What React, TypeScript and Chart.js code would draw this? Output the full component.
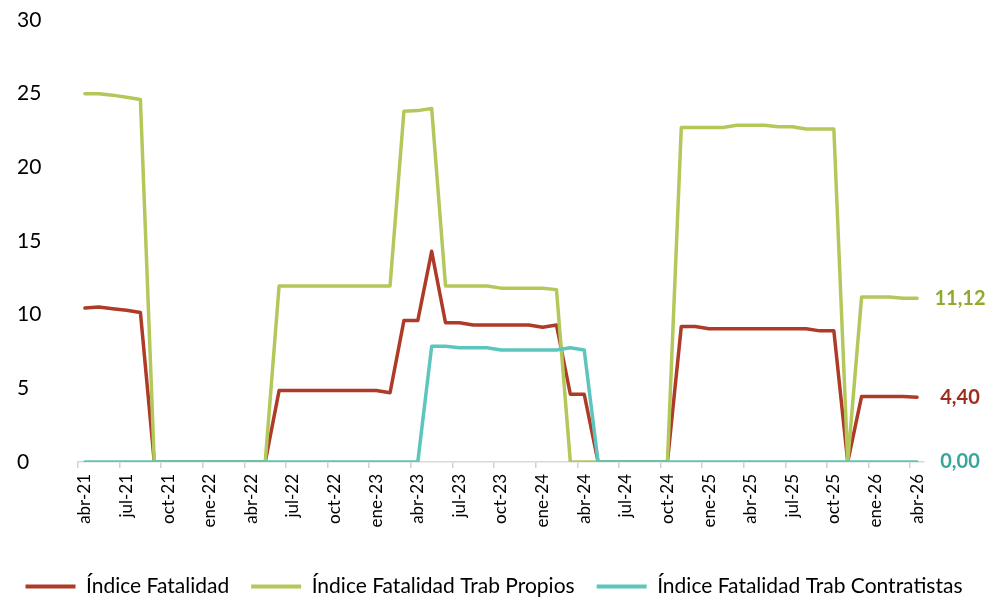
import React, { useEffect, useRef } from 'react';
import { Chart, registerables } from 'chart.js';

Chart.register(...registerables);

const categories = [
  'abr-21', 'may-21', 'jun-21', 'jul-21', 'ago-21', 'sep-21', 'oct-21', 'nov-21', 'dic-21',
  'ene-22', 'feb-22', 'mar-22', 'abr-22', 'may-22', 'jun-22', 'jul-22', 'ago-22', 'sep-22', 'oct-22', 'nov-22', 'dic-22',
  'ene-23', 'feb-23', 'mar-23', 'abr-23', 'may-23', 'jun-23', 'jul-23', 'ago-23', 'sep-23', 'oct-23', 'nov-23', 'dic-23',
  'ene-24', 'feb-24', 'mar-24', 'abr-24', 'may-24', 'jun-24', 'jul-24', 'ago-24', 'sep-24', 'oct-24', 'nov-24', 'dic-24',
  'ene-25', 'feb-25', 'mar-25', 'abr-25', 'may-25', 'jun-25', 'jul-25', 'ago-25', 'sep-25', 'oct-25', 'nov-25', 'dic-25',
  'ene-26', 'feb-26', 'mar-26', 'abr-26',
];

const indiceFatalidad = [
  10.45, 10.52, 10.4, 10.3, 10.15, 0, 0, 0, 0,
  0, 0, 0, 0, 0, 4.85, 4.85, 4.85, 4.85, 4.85, 4.85, 4.85,
  4.85, 4.7, 9.6, 9.6, 14.3, 9.45, 9.45, 9.3, 9.3, 9.3, 9.3, 9.3,
  9.15, 9.3, 4.6, 4.6, 0, 0, 0, 0, 0, 0, 9.2, 9.2,
  9.05, 9.05, 9.05, 9.05, 9.05, 9.05, 9.05, 9.05, 8.9, 8.9, 0, 4.45,
  4.45, 4.45, 4.45, 4.4,
];

const indiceTrabPropios = [
  25.0, 25.0, 24.9, 24.75, 24.6, 0, 0, 0, 0,
  0, 0, 0, 0, 0, 11.95, 11.95, 11.95, 11.95, 11.95, 11.95, 11.95,
  11.95, 11.95, 23.8, 23.85, 24.0, 11.95, 11.95, 11.95, 11.95, 11.8, 11.8, 11.8,
  11.8, 11.7, 0, 0, 0, 0, 0, 0, 0, 0, 22.7, 22.7,
  22.7, 22.7, 22.85, 22.85, 22.85, 22.75, 22.75, 22.6, 22.6, 22.6, 0, 11.2,
  11.2, 11.2, 11.12, 11.12,
];

const indiceTrabContratistas = [
  0, 0, 0, 0, 0, 0, 0, 0, 0,
  0, 0, 0, 0, 0, 0, 0, 0, 0, 0, 0, 0,
  0, 0, 0, 0, 7.85, 7.85, 7.75, 7.75, 7.75, 7.6, 7.6, 7.6,
  7.6, 7.6, 7.75, 7.6, 0, 0, 0, 0, 0, 0, 0, 0,
  0, 0, 0, 0, 0, 0, 0, 0, 0, 0, 0, 0,
  0, 0, 0, 0,
];

const seriesNames = [
  'Índice Fatalidad',
  'Índice Fatalidad Trab Propios',
  'Índice Fatalidad Trab Contratistas',
];

const yTickValues = [0, 5, 10, 15, 20, 25, 30];

const lineColors = ['#AE3A28', '#B3C85A', '#5CC6BC'];
const endLabelColors = ['#9C2D1F', '#8FAA2C', '#38A69B'];

const FONT = "Lato, 'Open Sans', sans-serif";

const endLabelPlugin = {
  id: 'endLabels',
  afterDatasetsDraw(chart: any) {
    const { ctx, chartArea, scales } = chart;
    const y = scales.y;
    chart.data.datasets.forEach((ds: any, i: number) => {
      const v = ds.data[ds.data.length - 1] as number;
      const py = y.getPixelForValue(v);
      ctx.save();
      ctx.font = `bold 20px ${FONT}`;
      ctx.fillStyle = endLabelColors[i];
      ctx.textAlign = 'center';
      ctx.textBaseline = 'middle';
      ctx.fillText(v.toFixed(2).replace('.', ','), chartArea.right + 36, py);
      ctx.restore();
    });
  },
};

export default function App() {
  const ref = useRef<HTMLCanvasElement>(null);

  useEffect(() => {
    if (!ref.current) return;
    Chart.defaults.font.family = FONT;
    const seriesData = [indiceFatalidad, indiceTrabPropios, indiceTrabContratistas];
    const chart = new Chart(ref.current, {
      type: 'line',
      data: {
        labels: categories,
        datasets: seriesData.map((d, i) => ({
          label: seriesNames[i],
          data: d,
          borderColor: lineColors[i],
          backgroundColor: lineColors[i],
          borderWidth: 3.5,
          pointRadius: 0,
          tension: 0,
          fill: false,
          borderJoinStyle: 'round' as const,
          borderCapStyle: 'round' as const,
          order: 2 - i,
        })),
      },
      options: {
        responsive: false,
        animation: false,
        layout: { padding: { top: 20, bottom: -8, left: 0, right: 0 } },
        scales: {
          x: {
            type: 'category',
            offset: true,
            grid: {
              offset: true,
              drawOnChartArea: false,
              drawTicks: true,
              tickLength: 6,
              lineWidth: 1.5,
              color: (ctx: any) =>
                ctx.index !== undefined && ctx.index % 3 === 0 ? '#d0d0d0' : 'rgba(0,0,0,0)',
            },
            border: { display: true, color: '#d9d9d9', width: 1.5 },
            ticks: {
              autoSkip: false,
              maxRotation: 90,
              minRotation: 90,
              padding: 6,
              color: '#000',
              font: { size: 17 },
              callback: (_v: any, i: number) => (i % 3 === 0 ? categories[i] : ''),
            },
            afterFit: (s: any) => {
              s.height = 92;
            },
          },
          y: {
            type: 'linear',
            position: 'left',
            weight: 0,
            min: 0,
            max: 30,
            afterBuildTicks: (s: any) => {
              s.ticks = yTickValues.map((v) => ({ value: v }));
            },
            grid: { display: false },
            border: { display: false },
            ticks: {
              crossAlign: 'far',
              padding: 0,
              color: '#000',
              font: { size: 21 },
            },
            afterFit: (s: any) => {
              s.width = 61;
            },
          },
          yPad: {
            type: 'linear',
            position: 'left',
            weight: 10,
            display: true,
            grid: { display: false },
            border: { display: false },
            ticks: { display: false },
            afterFit: (s: any) => {
              s.width = 17;
            },
          },
          yRight: {
            type: 'linear',
            position: 'right',
            display: true,
            grid: { display: false },
            border: { display: false },
            ticks: { display: false },
            afterFit: (s: any) => {
              s.width = 64;
            },
          },
        },
        plugins: {
          legend: {
            position: 'bottom',
            labels: {
              boxWidth: 50,
              boxHeight: 4,
              padding: 22,
              color: '#000',
              font: { size: 21 },
              generateLabels: (c: any) =>
                (Chart.defaults.plugins.legend.labels.generateLabels as any)(c).map((l: any) => ({
                  ...l,
                  lineWidth: 0,
                })),
              sort: (a: any, b: any) => a.datasetIndex - b.datasetIndex,
            },
          },
          tooltip: { enabled: false },
        },
      } as any,
      plugins: [endLabelPlugin],
    });
    return () => chart.destroy();
  }, []);

  return (
    <div style={{ position: 'absolute', left: 0, top: 0, width: 988, height: 599 }}>
      <canvas ref={ref} width={988} height={599} />
    </div>
  );
}
